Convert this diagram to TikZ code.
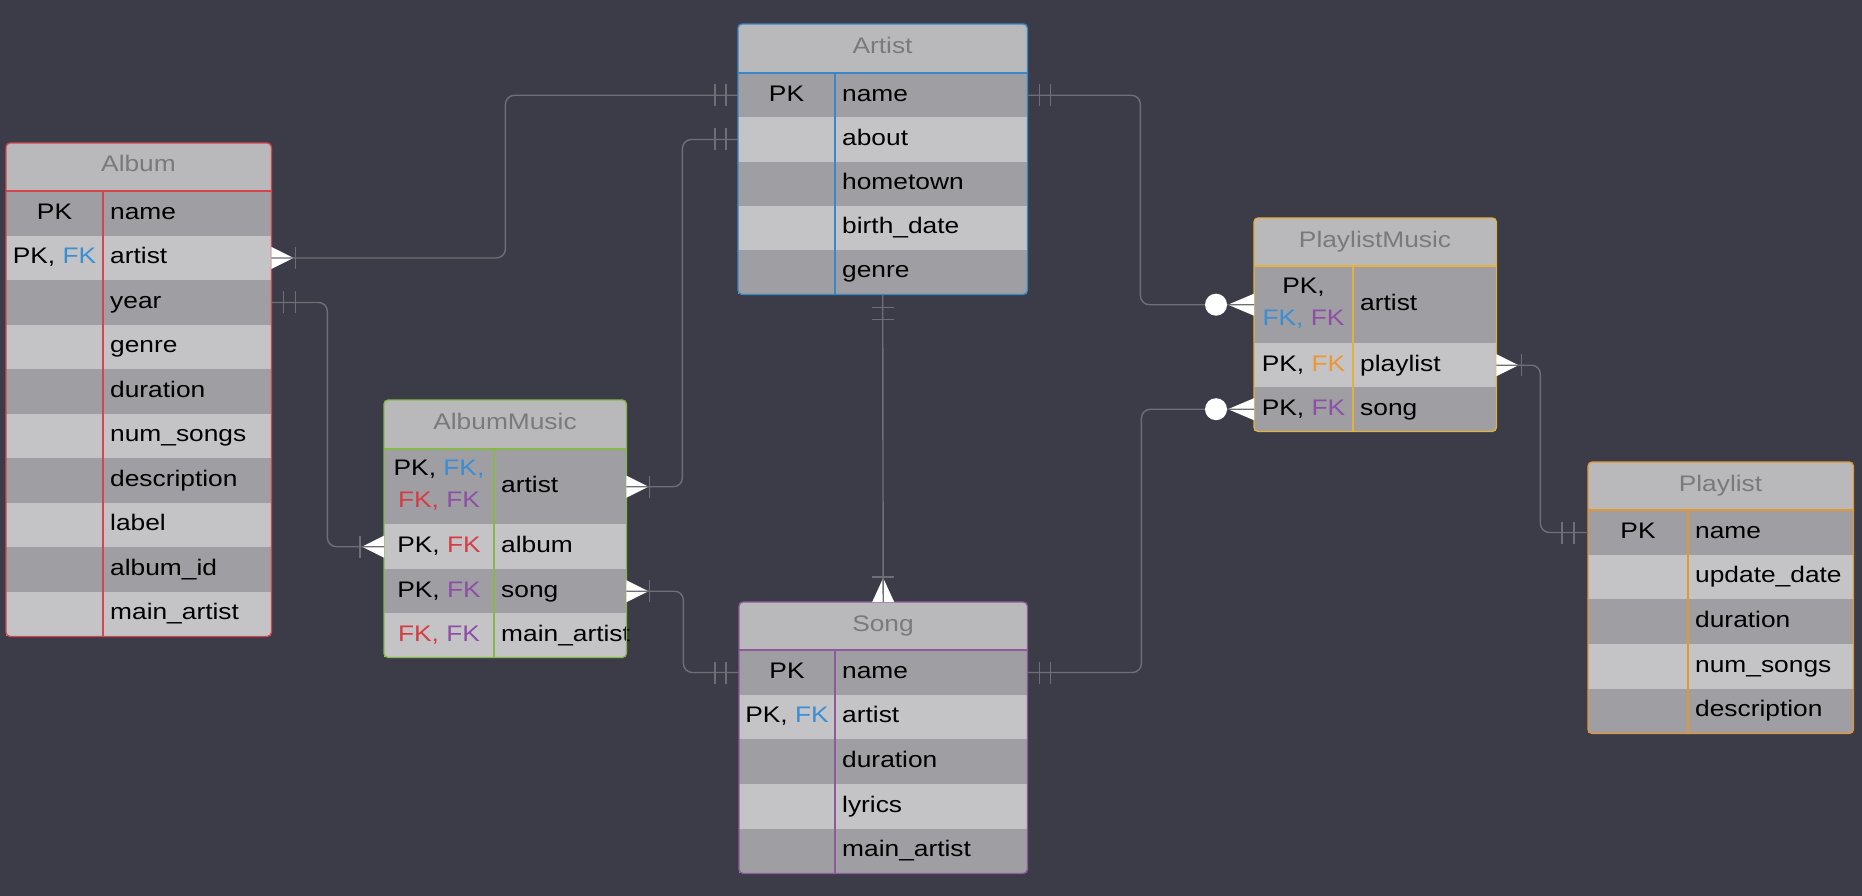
\documentclass[tikz,border=0pt]{standalone}
\usepackage{fontspec}
\setmainfont{Liberation Sans}[FakeStretch=1.17]
\definecolor{bgc}{HTML}{3C3C48}
\definecolor{hdrc}{HTML}{B9B9BB}
\definecolor{dkc}{HTML}{9E9EA3}
\definecolor{ltc}{HTML}{C4C4C6}
\definecolor{titc}{HTML}{7A7A7A}
\definecolor{linec}{HTML}{6E6E76}
\definecolor{fkblue}{HTML}{3A8ED3}
\definecolor{fkred}{HTML}{D63C45}
\definecolor{fkpurple}{HTML}{8E4FA6}
\definecolor{fkorange}{HTML}{EE9632}
\definecolor{albumc}{HTML}{D5454F}
\definecolor{artistc}{HTML}{3A87C8}
\definecolor{amc}{HTML}{86B94A}
\definecolor{songc}{HTML}{8D5A9C}
\definecolor{pmc}{HTML}{E3B23C}
\definecolor{plc}{HTML}{E39634}
\newcommand\fb[1]{\textcolor{fkblue}{#1}}
\newcommand\fr[1]{\textcolor{fkred}{#1}}
\newcommand\fp[1]{\textcolor{fkpurple}{#1}}
\newcommand\fo[1]{\textcolor{fkorange}{#1}}
\tikzset{
  erfont/.style={font=\fontsize{22.5}{27}\selectfont},
  rowdk/.style={fill=dkc, draw=none, inner sep=0pt},
  rowlt/.style={fill=ltc, draw=none, inner sep=0pt},
  framebox/.style={fill=hdrc, draw=none, inner sep=0pt, rounded corners=4pt},
  keytext/.style={erfont, anchor=base, inner sep=0pt, text=black},
  fieldtext/.style={erfont, anchor=base west, inner sep=0pt, text=black},
  titletext/.style={erfont, anchor=base, inner sep=0pt, text=titc},
  conn/.style={draw=linec, line width=1.4pt, rounded corners=9pt},
  barst/.style={draw=linec, line width=1.4pt},
  crowfill/.style={fill=white},
}
% frame node (filled with header colour), and title
\newcommand\erhead[7]{% id, x1, x2, top, hy, bottom, title
  \node[framebox, anchor=north west, minimum width={(#3-#2)*1pt}, minimum height={(#6-#4)*1pt}] (#1) at (#2,#4) {};
  \node[titletext] (#1-title) at ({(#2+#3)/2},{(#4+#5)/2+5}) {#7};
}
% row: id, x1, xd, x2, ya, yb, style, key, field
\newcommand\erow[9]{%
  \node[#7, anchor=north west, minimum width={(#4-#2)*1pt}, minimum height={(#6-#5)*1pt}] (#1) at (#2,#5) {};
  \node[keytext] (#1-k) at ({(#2+#3)/2},{(#5+#6)/2+6}) {#8};
  \node[fieldtext] (#1-f) at ({#3+7},{(#5+#6)/2+6}) {#9};
}
% border: id, xd, hy, colour
\newcommand\erborder[4]{%
  \draw[#4, line width=1.3pt, rounded corners=4pt] (#1.north west) rectangle (#1.south east);
  \draw[#4, line width=1.3pt] (#1.west |- 0,#3) -- (#1.east |- 0,#3);
  \draw[#4, line width=1.3pt] (#2,#3) -- (#2,#3 |- #1.south);
}
% crow's feet
\newcommand\crowE[2]{\fill[crowfill] ([xshift=#2]#1) -- ([yshift=11pt]#1) -- ([yshift=-11pt]#1) -- cycle;}
\newcommand\crowW[2]{\fill[crowfill] ([xshift=-#2]#1) -- ([yshift=11pt]#1) -- ([yshift=-11pt]#1) -- cycle;}
\newcommand\crowN[2]{\fill[crowfill] ([yshift=#2]#1) -- ([xshift=11pt]#1) -- ([xshift=-11pt]#1) -- cycle;}
% bars
\newcommand\ervbar[2]{\draw[barst] ([xshift=#2,yshift=11pt]#1) -- ([xshift=#2,yshift=-11pt]#1);}
\newcommand\erhbar[2]{\draw[barst] ([yshift=#2,xshift=11pt]#1) -- ([yshift=#2,xshift=-11pt]#1);}
\begin{document}
\begin{tikzpicture}[x=1pt,y=-1pt]
\fill[bgc] (0,0) rectangle (1862,896);
\useasboundingbox (0,0) rectangle (1862,896);

% ---------------- Album
\erhead{album}{6}{271}{143}{191}{636}{Album}
\erow{album-r1}{6}{103}{271}{191}{235.5}{rowdk}{PK}{name}
\erow{album-r2}{6}{103}{271}{235.5}{280}{rowlt}{PK, \fb{FK}}{artist}
\erow{album-r3}{6}{103}{271}{280}{324.5}{rowdk}{}{year}
\erow{album-r4}{6}{103}{271}{324.5}{369}{rowlt}{}{genre}
\erow{album-r5}{6}{103}{271}{369}{413.5}{rowdk}{}{duration}
\erow{album-r6}{6}{103}{271}{413.5}{458}{rowlt}{}{num\_songs}
\erow{album-r7}{6}{103}{271}{458}{502.5}{rowdk}{}{description}
\erow{album-r8}{6}{103}{271}{502.5}{547}{rowlt}{}{label}
\erow{album-r9}{6}{103}{271}{547}{591.5}{rowdk}{}{album\_id}
\erow{album-r10}{6}{103}{271}{591.5}{636}{rowlt}{}{main\_artist}
\erborder{album}{103}{191}{albumc}

% ---------------- Artist
\erhead{artist}{738}{1027}{24}{73}{294}{Artist}
\erow{artist-r1}{738}{835}{1027}{73}{117.2}{rowdk}{PK}{name}
\erow{artist-r2}{738}{835}{1027}{117.2}{161.4}{rowlt}{}{about}
\erow{artist-r3}{738}{835}{1027}{161.4}{205.6}{rowdk}{}{hometown}
\erow{artist-r4}{738}{835}{1027}{205.6}{249.8}{rowlt}{}{birth\_date}
\erow{artist-r5}{738}{835}{1027}{249.8}{294}{rowdk}{}{genre}
\erborder{artist}{835}{73}{artistc}

% ---------------- AlbumMusic
\erhead{am}{384}{626}{400}{449}{657}{AlbumMusic}
\erow{am-r1}{384}{494}{626}{449}{524}{rowdk}{}{artist}
\node[keytext] (am-r1-k1) at (439,475) {PK, \fb{FK,}};
\node[keytext] (am-r1-k2) at (439,507) {\fr{FK,} \fp{FK}};
\erow{am-r2}{384}{494}{626}{524}{569}{rowlt}{PK, \fr{FK}}{album}
\erow{am-r3}{384}{494}{626}{569}{613}{rowdk}{PK, \fp{FK}}{song}
\erow{am-r4}{384}{494}{626}{613}{657}{rowlt}{\fr{FK,} \fp{FK}}{main\_artist}
\erborder{am}{494}{449}{amc}

% ---------------- Song
\erhead{song}{739}{1027}{602}{650}{873}{Song}
\erow{song-r1}{739}{835}{1027}{650}{694.6}{rowdk}{PK}{name}
\erow{song-r2}{739}{835}{1027}{694.6}{739.2}{rowlt}{PK, \fb{FK}}{artist}
\erow{song-r3}{739}{835}{1027}{739.2}{783.8}{rowdk}{}{duration}
\erow{song-r4}{739}{835}{1027}{783.8}{828.4}{rowlt}{}{lyrics}
\erow{song-r5}{739}{835}{1027}{828.4}{873}{rowdk}{}{main\_artist}
\erborder{song}{835}{650}{songc}

% ---------------- PlaylistMusic
\erhead{pm}{1254}{1496}{218}{266}{431}{PlaylistMusic}
\erow{pm-r1}{1254}{1353}{1496}{266}{343}{rowdk}{}{artist}
\node[keytext] (pm-r1-k1) at (1303.5,293) {PK,};
\node[keytext] (pm-r1-k2) at (1303.5,325) {\fb{FK,} \fp{FK}};
\erow{pm-r2}{1254}{1353}{1496}{343}{387}{rowlt}{PK, \fo{FK}}{playlist}
\erow{pm-r3}{1254}{1353}{1496}{387}{431}{rowdk}{PK, \fp{FK}}{song}
\erborder{pm}{1353}{266}{pmc}

% ---------------- Playlist
\erhead{pl}{1588}{1853}{462}{510}{733}{Playlist}
\erow{pl-r1}{1588}{1688}{1853}{510}{554.6}{rowdk}{PK}{name}
\erow{pl-r2}{1588}{1688}{1853}{554.6}{599.2}{rowlt}{}{update\_date}
\erow{pl-r3}{1588}{1688}{1853}{599.2}{643.8}{rowdk}{}{duration}
\erow{pl-r4}{1588}{1688}{1853}{643.8}{688.4}{rowlt}{}{num\_songs}
\erow{pl-r5}{1588}{1688}{1853}{688.4}{733}{rowdk}{}{description}
\erborder{pl}{1688}{510}{plc}

% ---------------- crow's feet (under lines)
\crowE{album-r2.east}{22pt}
\crowW{am-r2.west}{22pt}
\crowE{am-r1.east}{22pt}
\crowE{am-r3.east}{22pt}
\crowN{song.north}{24pt}
\crowW{pm-r1.west}{26pt}
\crowW{pm-r3.west}{26pt}
\crowE{pm-r2.east}{22pt}

% ---------------- connectors
\draw[conn] (album-r2.east) -- ++(234,0) |- (artist-r1.west);
\draw[conn] (album-r3.east) -- ++(56,0) |- (am-r2.west);
\draw[conn] (am-r1.east) -- ++(56,0) |- (artist-r2.west);
\draw[conn] (am-r3.east) -- ++(57,0) |- (song-r1.west);
\draw[conn] (artist.south) -- (song.north);
\draw[conn] (artist-r1.east) -- ++(113,0) |- (pm-r1.west);
\draw[conn] (song-r1.east) -- ++(114,0) |- (pm-r3.west);
\draw[conn] (pm-r2.east) -- ++(44,0) |- (pl-r1.west);

% ---------------- bars
\ervbar{album-r2.east}{24pt}
\ervbar{artist-r1.west}{-12pt}
\ervbar{artist-r1.west}{-23pt}
\ervbar{album-r3.east}{12pt}
\ervbar{album-r3.east}{24pt}
\ervbar{am-r2.west}{-24pt}
\ervbar{am-r1.east}{23pt}
\ervbar{artist-r2.west}{-12pt}
\ervbar{artist-r2.west}{-23pt}
\ervbar{am-r3.east}{23pt}
\ervbar{song-r1.west}{-13pt}
\ervbar{song-r1.west}{-24pt}
\erhbar{artist.south}{-13pt}
\erhbar{artist.south}{-25pt}
\erhbar{song.north}{25pt}
\ervbar{artist-r1.east}{12pt}
\ervbar{artist-r1.east}{23pt}
\ervbar{song-r1.east}{12pt}
\ervbar{song-r1.east}{23pt}
\ervbar{pm-r2.east}{25pt}
\ervbar{pl-r1.west}{-14pt}
\ervbar{pl-r1.west}{-26pt}

% ---------------- circles
\fill[white] ([xshift=-38pt]pm-r1.west) circle (11pt);
\fill[white] ([xshift=-38pt]pm-r3.west) circle (11pt);
\end{tikzpicture}
\end{document}
